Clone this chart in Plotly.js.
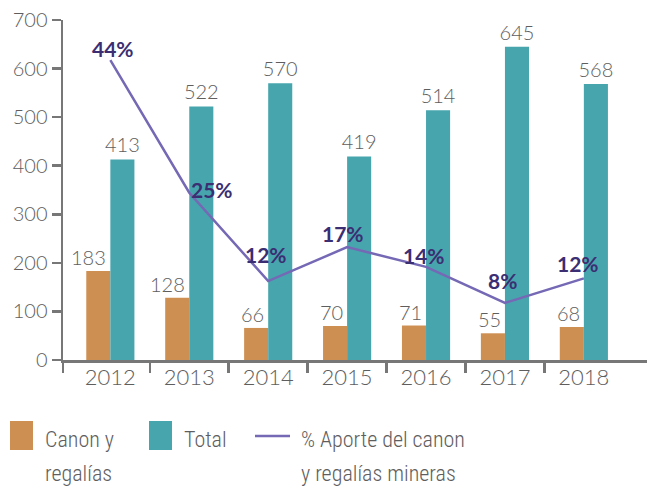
<!DOCTYPE html>
<html>
<head>
<meta charset="utf-8">
<script src="https://cdn.plot.ly/plotly-3.0.1.min.js"></script>
<style>html,body{margin:0;padding:0;background:#fff;}#chart{width:652px;height:486px;}</style>
</head>
<body>
<div id="chart"></div>
<script>
// ---- data ----
const years = ['2012', '2013', '2014', '2015', '2016', '2017', '2018'];
const canon = [183, 128, 66, 70, 71, 55, 68];
const total = [413, 522, 570, 419, 514, 645, 568];
const pctAporte = [44.1, 24.6, 11.6, 16.6, 13.7, 8.4, 12.0];
const seriesNames = ['Canon y regalías', 'Total', '% Aporte del canon y regalías mineras'];
const yTicks = [0, 100, 200, 300, 400, 500, 600, 700];

// ---- styles ----
const C_ORANGE = '#CE8F52';
const C_TEAL = '#47A5AE';
const C_LINE = '#7568B5';
const C_LABEL = '#3B2E72';
const C_AXIS = '#777777';
const C_TEXT = '#5e5e5e';
const FONT = 'Lato, "Open Sans", sans-serif';
const LEG_FONT = '"Roboto Condensed", Roboto, sans-serif';

const W = 652, H = 486, ML = 63, MR = 5, MT = 20, MB = 126;
const PW = W - ML - MR, PH = H - MT - MB;
const px = v => (v - ML) / PW;          // pixel -> paper x
const py = v => (H - MB - v) / PH;      // pixel -> paper y

const numFont = {family: FONT, size: 20, color: C_TEXT, weight: 300};

const traces = [
  {type: 'bar', name: seriesNames[0], x: years, y: canon, marker: {color: C_ORANGE},
   hoverinfo: 'x+y', showlegend: false},
  {type: 'bar', name: seriesNames[1], x: years, y: total, marker: {color: C_TEAL},
   text: total.map(String), textposition: 'outside', cliponaxis: false, constraintext: 'none',
   textfont: numFont, hoverinfo: 'x+y', showlegend: false},
  {type: 'scatter', mode: 'lines', name: seriesNames[2], x: years, y: pctAporte, yaxis: 'y2',
   line: {color: C_LINE, width: 2.5}, showlegend: false, cliponaxis: false}
];

const annotations = [];
// value labels of the orange bars (right-aligned next to the teal bar); x = category index
canon.forEach((v, i) => annotations.push({
  x: i, y: v, xref: 'x', yref: 'y', xanchor: 'right', yanchor: 'bottom',
  showarrow: false, text: String(v), font: numFont, xshift: -2, yshift: 0
}));
// percentage labels (pixel offsets)
const pctShift = [[3, 12], [23, 3], [-2, 27], [-4, 14], [-2, 11], [-2, 22], [-6, 15]];
pctAporte.forEach((v, i) => annotations.push({
  x: i, y: v, xref: 'x', yref: 'y2', showarrow: false,
  text: '<b>' + Math.round(v) + '%</b>',
  font: {family: FONT, size: 21, color: C_LABEL, weight: 700},
  xshift: pctShift[i][0], yshift: pctShift[i][1]
}));

// custom legend
const legText = [
  ['Canon y', 43, 439], ['regalías', 43, 473],
  ['Total', 182, 439],
  ['% Aporte del canon', 299, 439], ['y regalías mineras', 299, 473]
];
legText.forEach(t => annotations.push({
  x: px(t[1]), y: py(t[2]), xref: 'paper', yref: 'paper', xanchor: 'left', yanchor: 'middle',
  showarrow: false, text: t[0], font: {family: LEG_FONT, size: 22, color: C_TEXT, weight: 300}
}));
const shapes = [
  {type: 'rect', xref: 'paper', yref: 'paper', x0: px(10), x1: px(33), y0: py(450), y1: py(421),
   fillcolor: C_ORANGE, line: {width: 0}},
  {type: 'rect', xref: 'paper', yref: 'paper', x0: px(149), x1: px(172), y0: py(450), y1: py(421),
   fillcolor: C_TEAL, line: {width: 0}},
  {type: 'line', xref: 'paper', yref: 'paper', x0: px(255), x1: px(290), y0: py(436), y1: py(436),
   line: {color: C_LINE, width: 2.5}}
];

const xRange = [-0.6, 6.8];
const boundaryTicks = [xRange[0]].concat(years.slice(1).map((_, i) => i + 0.5));

const layout = {
  width: W, height: H,
  margin: {l: ML, r: MR, t: MT, b: MB, pad: 0},
  paper_bgcolor: '#fff', plot_bgcolor: '#fff',
  showlegend: false,
  barmode: 'group', bargap: 0.39, bargroupgap: 0,
  font: {family: FONT, color: C_TEXT},
  xaxis: {type: 'category', range: xRange, showline: true, linecolor: C_AXIS, linewidth: 2.5,
          ticks: '', tickfont: {family: FONT, size: 22, color: C_TEXT, weight: 300},
          ticklabelstandoff: -4,
          showgrid: false, zeroline: false, fixedrange: true},
  xaxis3: {type: 'linear', overlaying: 'x', anchor: 'y', range: xRange, tickvals: boundaryTicks,
           ticks: 'outside', ticklen: 12, tickwidth: 2.5, tickcolor: C_AXIS, showticklabels: false,
           showline: false, showgrid: false, zeroline: false},
  yaxis: {range: [0, 700], tickvals: yTicks, ticks: 'outside', ticklen: 9, tickwidth: 2.5,
          tickcolor: C_AXIS, showline: true, linecolor: C_AXIS, linewidth: 2.5,
          tickfont: {family: FONT, size: 20, color: C_TEXT, weight: 300},
          showgrid: false, zeroline: false},
  yaxis2: {range: [0, 50], overlaying: 'y', side: 'right', showticklabels: false, ticks: '',
           showline: false, showgrid: false, zeroline: false},
  annotations: annotations,
  shapes: shapes
};

traces.push({type: 'scatter', mode: 'markers', x: [0], y: [0], xaxis: 'x3', yaxis: 'y',
             marker: {opacity: 0}, hoverinfo: 'skip', showlegend: false});

Plotly.newPlot('chart', traces, layout, {displayModeBar: false, staticPlot: true});
</script>
</body>
</html>
